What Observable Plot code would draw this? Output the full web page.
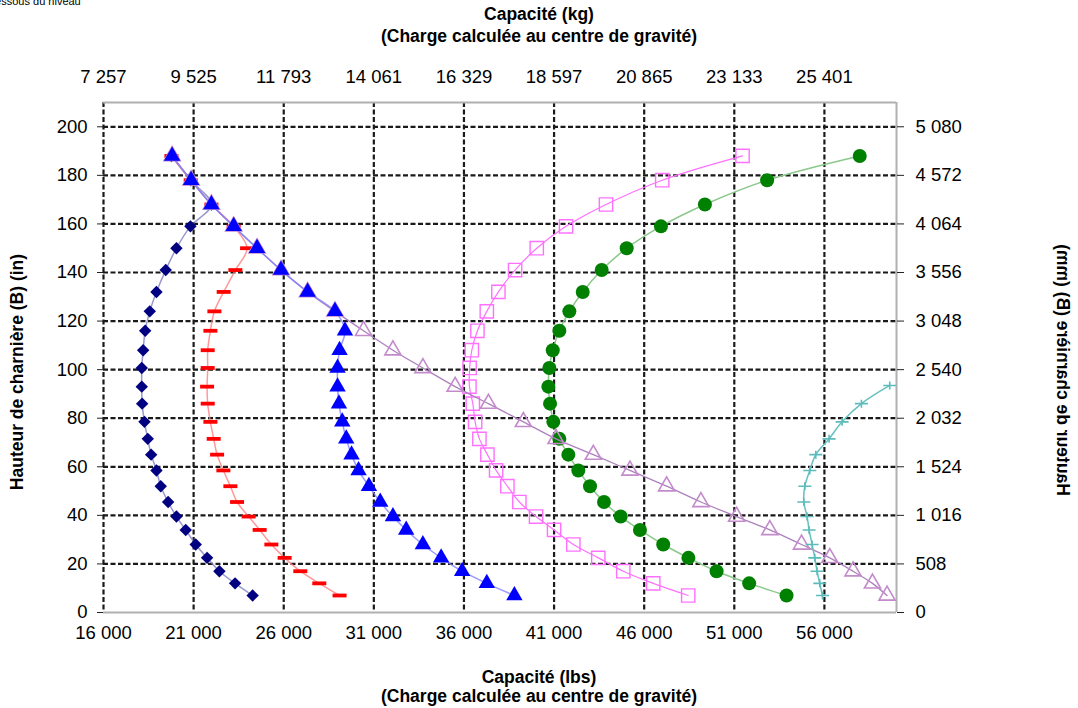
<!DOCTYPE html>
<html><head><meta charset="utf-8">
<script src="https://cdn.jsdelivr.net/npm/d3@7"></script>
<script src="https://cdn.jsdelivr.net/npm/@observablehq/plot@0.6"></script>
<style>
body{margin:0;background:#fff;font-family:"Liberation Sans",Arial,sans-serif;}
#wrap{position:relative;width:1078px;height:708px;overflow:hidden;background:#fff;}
#wrap svg{position:absolute;left:0;top:0;}
.t{position:absolute;font-weight:bold;font-size:17.5px;white-space:nowrap;color:#000;line-height:1;}
.c{left:0;width:1078px;text-align:center;}
</style></head><body><div id="wrap"></div>
<script>
// Heights (in) of each measured point, bottom to top
const heights = [7, 12, 17, 22.5, 28, 34, 39.5, 45.5, 52, 58.5, 65, 71.5, 78.5, 86, 93, 100.7, 108, 116, 124, 132, 141, 150, 159, 168, 178, 188];
const heightsCyan = [7, 12, 17, 22.5, 28, 34, 39.5, 45.5, 52, 58.5, 65, 71.5, 78.5, 86, 93.5];

// Capacity (lbs) per series
const navyLbs   = [24276, 23301, 22430, 21748, 21116, 20562, 20047, 19586, 19176, 18938, 18644, 18456, 18273, 18145, 18123, 18123, 18200, 18312, 18567, 18938, 19453, 20047, 20823, 21987, 20839, 19770];
const redLbs    = [29099, 27973, 26920, 26050, 25313, 24664, 24054, 23411, 23040, 22652, 22303, 22114, 21931, 21782, 21748, 21782, 21782, 21931, 22153, 22669, 23317, 23966, 23223, 21987, 20839, 19770];
const blueLbs   = [38799, 37268, 35899, 34735, 33721, 32795, 32059, 31354, 30728, 30152, 29763, 29469, 29248, 29065, 28987, 28987, 29098, 29398, 28844, 27325, 25850, 24520, 23223, 21987, 20861, 19808];
const purpleLbs = [59475, 58666, 57591, 56299, 54730, 52973, 51127, 49149, 47246, 45213, 43178, 41111, 39298, 37358, 35512, 33722, 32059, 30429, 28844, 27325, 25850, 24520, 23223, 21987, 20861, 19808];
const pinkLbs   = [48443, 46503, 44840, 43454, 42069, 40999, 40001, 39075, 38410, 37784, 37302, 36858, 36620, 36492, 36304, 36315, 36437, 36747, 37268, 37911, 38837, 40040, 41664, 43881, 47001, 51458];
const greenLbs  = [53898, 51825, 50017, 48454, 47057, 45766, 44696, 43771, 42994, 42346, 41792, 41293, 40960, 40777, 40683, 40738, 40927, 41293, 41847, 42590, 43643, 45029, 46930, 49369, 52822, 57960];
const cyanLbs   = [55893, 55743, 55594, 55466, 55317, 55151, 55040, 54857, 54913, 55189, 55522, 56259, 56980, 58054, 59625];

// Tick values and labels
const lbsTicks  = [16000, 21000, 26000, 31000, 36000, 41000, 46000, 51000, 56000];
const lbsLabels = ["16 000", "21 000", "26 000", "31 000", "36 000", "41 000", "46 000", "51 000", "56 000"];
const kgLabels  = ["7 257", "9 525", "11 793", "14 061", "16 329", "18 597", "20 865", "23 133", "25 401"];
const inTicks   = [0, 20, 40, 60, 80, 100, 120, 140, 160, 180, 200];
const mmLabels  = ["0", "508", "1 016", "1 524", "2 032", "2 540", "3 048", "3 556", "4 064", "4 572", "5 080"];

const toRows = (xs, ys) => xs.map((x, i) => ({x, y: ys[i]}));
const navy = toRows(navyLbs, heights), red = toRows(redLbs, heights), blue = toRows(blueLbs, heights);
const purple = toRows(purpleLbs, heights), pink = toRows(pinkLbs, heights), green = toRows(greenLbs, heights);
const cyan = toRows(cyanLbs, heightsCyan);

const dashSym = {draw(ctx){ ctx.moveTo(-7, 0); ctx.lineTo(7, 0); }};
const plusSym = {draw(ctx){ ctx.moveTo(-6.5, 0); ctx.lineTo(6.5, 0); ctx.moveTo(0, -4); ctx.lineTo(0, 4); }};

const gridStyle = {stroke: "#1a1a1a", strokeOpacity: 1, strokeWidth: 2.2, strokeDasharray: "5,2.5"};
const frameStyle = {stroke: "#b0b0b0", strokeWidth: 2};
const lineOpts = (stroke, w, o) => ({x: "x", y: "y", stroke, strokeWidth: w, strokeOpacity: o, curve: "catmull-rom"});

const chart = Plot.plot({
  width: 1078, height: 708,
  marginLeft: 103, marginRight: 182, marginTop: 102, marginBottom: 96,
  x: {domain: [16000, 60000], axis: null},
  y: {domain: [0, 210], axis: null},
  style: {fontFamily: '"Liberation Sans", Arial, sans-serif', fontSize: "18.5px", background: "white", color: "#000", overflow: "visible"},
  marks: [
    Plot.gridX(lbsTicks, gridStyle),
    Plot.gridY(inTicks.filter(d => d > 0), gridStyle),
    Plot.ruleY([210], frameStyle),
    Plot.ruleY([0], frameStyle),
    Plot.ruleX([60000], frameStyle),
    Plot.axisY(inTicks, {anchor: "left", tickSize: 6, tickPadding: 10, label: null, stroke: "#222"}),
    Plot.axisY(inTicks, {anchor: "right", tickSize: 7, tickPadding: 12, label: null, stroke: "#222",
      tickFormat: d => mmLabels[inTicks.indexOf(d)]}),
    Plot.axisX(lbsTicks, {anchor: "bottom", tickSize: 0, tickPadding: 13, label: null,
      tickFormat: d => lbsLabels[lbsTicks.indexOf(d)]}),
    Plot.axisX(lbsTicks, {anchor: "top", tickSize: 0, tickPadding: 20, label: null,
      tickFormat: d => kgLabels[lbsTicks.indexOf(d)]}),

    Plot.line(navy, lineOpts("#8080c0", 1.5, 0.8)),
    Plot.dot(navy, {x: "x", y: "y", symbol: "diamond2", r: 5.6, fill: "#000080"}),
    Plot.line(red, lineOpts("#ff8080", 1.5, 0.8)),
    Plot.dot(red, {x: "x", y: "y", symbol: dashSym, fill: "none", stroke: "#ff0000", strokeWidth: 3.8}),
    Plot.line(pink, lineOpts("#ff70ff", 1.2, 1)),
    Plot.dot(pink, {x: "x", y: "y", symbol: "square", r: 7.5, fill: "none", stroke: "#ff70ff", strokeWidth: 1.4}),
    Plot.line(green, lineOpts("#8cc88c", 1.5, 1)),
    Plot.dot(green, {x: "x", y: "y", symbol: "circle", r: 7, fill: "#008000"}),
    Plot.line(purple, lineOpts("#ad80bd", 1.3, 1)),
    Plot.dot(purple, {x: "x", y: "y", symbol: "triangle", r: 6, fill: "none", stroke: "#c38bcb", strokeWidth: 1.6}),
    Plot.line(blue, lineOpts("#8080ff", 1.5, 0.8)),
    Plot.dot(blue, {x: "x", y: "y", symbol: "triangle", r: 6.1, fill: "#0000ff"}),
    Plot.line(cyan, lineOpts("#66c0c0", 1.5, 1)),
    Plot.dot(cyan, {x: "x", y: "y", symbol: plusSym, fill: "none", stroke: "#5cbcbc", strokeWidth: 1.6})
  ]
});

const wrap = document.getElementById("wrap");
wrap.appendChild(chart);

function addText(html, cls, css) {
  const d = document.createElement("div");
  d.className = cls;
  d.innerHTML = html;
  Object.assign(d.style, css);
  wrap.appendChild(d);
  return d;
}
addText("dessous du niveau", "t", {left: "-11px", top: "-4px", fontSize: "11px", fontWeight: "normal"});
addText("Capacité (kg)", "t c", {top: "6px"});
addText("(Charge calculée au centre de gravité)", "t c", {top: "28px"});
addText("Capacité (lbs)", "t c", {top: "669px"});
addText("(Charge calculée au centre de gravité)", "t c", {top: "688px"});
addText("Hauteur de charnière (B) (in)", "t", {left: "18px", top: "372px", transform: "translate(-50%,-50%) rotate(-90deg)"});
addText("Hauteur de charnière (B) (mm)", "t", {left: "1062px", top: "370px", transform: "translate(-50%,-50%) rotate(-90deg) scaleY(-1)"});
</script></body></html>
